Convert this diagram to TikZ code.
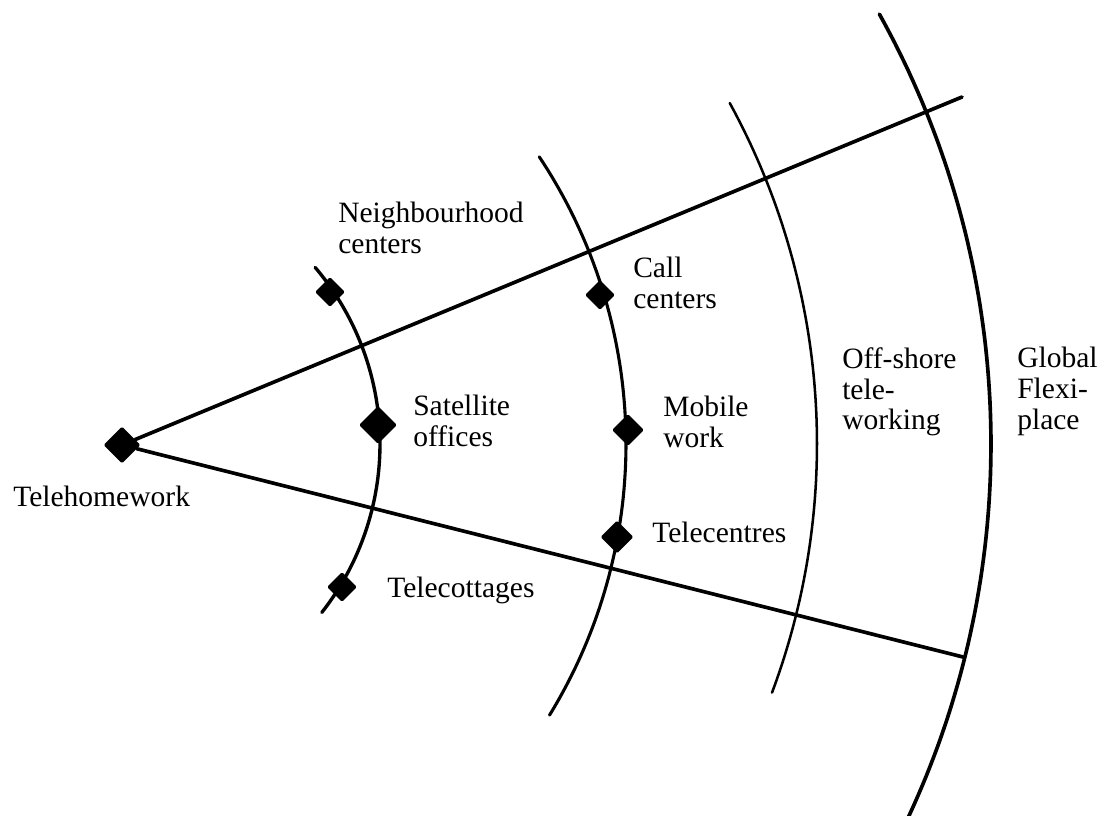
\documentclass[tikz,border=0pt]{standalone}
\usepackage{fontspec}
\setmainfont{Liberation Serif}
\usetikzlibrary{shapes.geometric,positioning}

\begin{document}
\begin{tikzpicture}[
    x=0.025cm, y=-0.025cm,
    font=\fontsize{21}{22}\selectfont,
    ray/.style={line width=2.6pt, line cap=round},
    ring/.style={line width=2.2pt, line cap=round, samples=80},
    spot/.style={diamond, fill=black, inner sep=0pt, minimum size=7.5mm,
                 rounded corners=1pt},
    lbl/.style={inner sep=0pt, align=left},
  ]
    \useasboundingbox (0,0) rectangle (1100,816);

    % --- the four rings round one hub ---
    \coordinate (hub) at (107,444);
    \draw[ring, line width=2.4pt] plot[domain=-40.3:38.1]
      ({107+273*cos(\x)}, {444+273*sin(\x)});
    \draw[ring] plot[domain=-33.6:31.5]
      ({107+519*cos(\x)}, {444+519*sin(\x)});
    \draw[ring, line width=1.8pt] plot[domain=-28.7:20.5]
      ({107+710*cos(\x)}, {444+710*sin(\x)});
    \draw[ring, line width=2.6pt] plot[domain=-29.1:25.5]
      ({107+884*cos(\x)}, {444+884*sin(\x)});

    % --- work places ---
    \node[spot, minimum size=9.2mm] (home) at (122,445) {};
    \node[spot] (nbh) at (330,292) {};
    \node[spot, minimum size=9.5mm] (sat) at (378,425) {};
    \node[spot] (cott) at (342,587) {};
    \node[spot] (call) at (600,295) {};
    \node[spot, minimum size=8mm] (mob) at (628,430) {};
    \node[spot, minimum size=8.2mm] (cent) at (617,537) {};

    % --- the two rays ---
    \coordinate (upend) at (962,97);
    \coordinate (lowend) at (963,657);
    \draw[ray] (home) -- (upend);
    \draw[ray] (home) -- (lowend);

    % --- labels ---
    \node[lbl, anchor=base west] (hometxt) at (13,506) {Telehomework};
    \node[lbl, anchor=north west] (nbhtxt) at (338,202) {Neighbourhood\\centers};
    \node[lbl, anchor=north west] (sattxt) at (413,395) {Satellite\\offices};
    \node[lbl, anchor=base west] (cotttxt) at (387,597) {Telecottages};
    \node[lbl, anchor=north west] (calltxt) at (633,257) {Call\\centers};
    \node[lbl, anchor=north west] (mobtxt) at (663,396) {Mobile\\work};
    \node[lbl, anchor=base west] (centtxt) at (652,542) {Telecentres};
    \node[lbl, anchor=north west] (offtxt) at (842,347) {Off-shore\\tele-\\working};
    \node[lbl, anchor=north west] (globtxt) at (1017,347) {Global\\Flexi-\\place};
  \end{tikzpicture}
\end{document}
